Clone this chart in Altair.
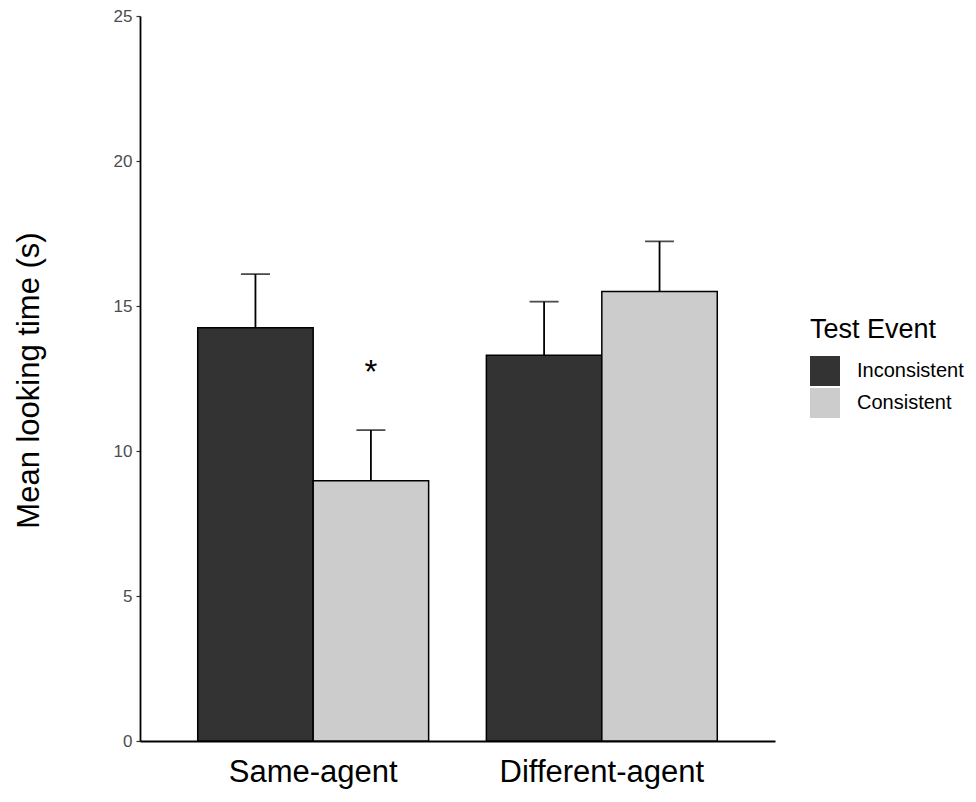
import altair as alt
import pandas as pd

conditions = ["Same-agent", "Same-agent", "Different-agent", "Different-agent"]
events = ["Inconsistent", "Consistent", "Inconsistent", "Consistent"]
means = [14.25, 8.97, 13.30, 15.50]
uppers = [16.10, 10.72, 15.15, 17.23]

cond_order = ["Same-agent", "Different-agent"]
event_order = ["Inconsistent", "Consistent"]
event_colors = ["#333333", "#CCCCCC"]

star_condition = ["Same-agent"]
star_event = ["Consistent"]
star_y = [12.7]
star_text = ["*"]

df = pd.DataFrame({"Condition": conditions, "Event": events, "Mean": means, "Upper": uppers})
star_df = pd.DataFrame({"Condition": star_condition, "Event": star_event, "y": star_y, "t": star_text})

FONT = "Liberation Sans"

x_axis = alt.Axis(title=None, labelAngle=0, labelAlign="center", labelBaseline="top",
                  ticks=False, tickSize=0, labelLimit=500,
                  labelFontSize=31, labelColor="black", labelFont=FONT,
                  labelPadding=16, domainColor="black", domainWidth=1.8)
x_scale = alt.Scale(paddingInner=0.2, paddingOuter=0.2)
xoff_scale = alt.Scale(paddingInner=0, paddingOuter=0)
y_scale = alt.Scale(domain=[0, 25], nice=False)
y_axis = alt.Axis(title="Mean looking time (s)", values=[0, 5, 10, 15, 20, 25],
                  grid=False, tickSize=4, tickColor="#333333", tickWidth=1.2,
                  labelFontSize=17, labelColor="#4D4D4D", labelFont=FONT, labelPadding=4,
                  domainColor="black", domainWidth=1.8,
                  titleFontSize=31, titleFont=FONT, titleFontWeight="normal",
                  titleColor="black", titleAngle=270, titleX=-111, titleY=364,
                  titleAlign="center", titleBaseline="middle")


def xenc():
    return alt.X("Condition:N", sort=cond_order, scale=x_scale, axis=x_axis)


def xoff():
    return alt.XOffset("Event:N", sort=event_order, scale=xoff_scale)


bars = alt.Chart(df).mark_bar(stroke="black", strokeWidth=1.5).encode(
    x=xenc(),
    xOffset=xoff(),
    y=alt.Y("Mean:Q", scale=y_scale, axis=y_axis),
    color=alt.Color("Event:N", sort=event_order,
                    scale=alt.Scale(domain=event_order, range=event_colors),
                    legend=alt.Legend(title="Test Event", orient="none", legendX=670, legendY=301,
                                      titleFontSize=27, titleFont=FONT, titleFontWeight="normal",
                                      titleColor="black", titlePadding=12,
                                      labelFontSize=20, labelFont=FONT, labelColor="black",
                                      labelOffset=17, symbolType="square", symbolSize=900,
                                      symbolStrokeWidth=0, rowPadding=2)),
)

err = alt.Chart(df).mark_rule(color="black", strokeWidth=1.8).encode(
    x=xenc(),
    xOffset=xoff(),
    y=alt.Y("Mean:Q", scale=y_scale, axis=y_axis),
    y2="Upper:Q",
)

caps = alt.Chart(df).mark_tick(color="black", thickness=1.8, size=29).encode(
    x=xenc(),
    xOffset=xoff(),
    y=alt.Y("Upper:Q", scale=y_scale, axis=y_axis),
)

star = alt.Chart(star_df).mark_text(fontSize=33, font=FONT, color="black", baseline="middle").encode(
    x=xenc(),
    xOffset=xoff(),
    y=alt.Y("y:Q", scale=y_scale, axis=y_axis),
    text="t:N",
)

chart = alt.layer(bars, err, caps, star).properties(
    width=635, height=725,
    autosize=alt.AutoSizeParams(type="none"),
    padding={"left": 132, "top": 8, "right": 190, "bottom": 52},
).configure_view(stroke=None).configure_axis(grid=False)

chart.save("out.html", embed_options={"renderer": "svg", "actions": False})
